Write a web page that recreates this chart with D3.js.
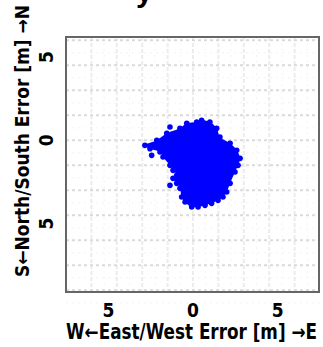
<!DOCTYPE html>
<html>
<head>
<meta charset="utf-8">
<script src="https://cdn.jsdelivr.net/npm/d3@7"></script>
<style>
  html, body { margin: 0; padding: 0; background: #fff; }
  svg { display: block; }
</style>
</head>
<body>
<div id="chart"></div>
<script>
// outline of the dense error cloud (east/west m, north/south m)
const cloudX = [-2.84, -2.14, -1.55, -0.77, -0.37, 0.22, 0.51, 1.00, 1.40, 1.59, 2.19, 2.58, 2.78, 2.66, 2.48, 2.19, 1.99, 1.77, 1.48, 1.10, 0.71, 0.30, -0.08, -0.47, -0.67, -0.77, -0.96, -1.18, -0.96, -1.18, -1.36, -1.77, -1.95, -2.54];
const cloudY = [-0.30, 0.00, 0.42, 0.72, 1.02, 1.10, 1.20, 1.10, 0.72, 0.20, -0.18, -0.60, -1.08, -1.50, -1.90, -2.58, -3.10, -3.40, -3.60, -3.78, -3.90, -4.00, -4.00, -3.70, -3.40, -2.88, -2.58, -2.28, -2.10, -1.80, -1.50, -1.00, -0.70, -0.50];
// isolated fixes outside the cloud
const strayX = [-1.36, -1.36, -2.44];
const strayY = [0.80, -2.70, -0.90];

const xTicks = [-5, 0, 5];
const yTicks = [5, 0, -5];
const gridX = [-6, -4.5, -3, -1.5, 0, 1.5, 3, 4.5, 6];
const gridY = [6, 4.5, 3, 1.5, 0, -1.5, -3, -4.5, -6, -7.5, -9];
const xTitle = "W\u2190East/West Error [m] \u2192E";
const yTitle = "S\u2190North/South Error [m] \u2192N";

const width = 323, height = 347;
const margins = { top: 37, right: 3, bottom: 55, left: 66 };

const xScale = d3.scaleLinear()
    .domain([-7.5, 7.5])
    .range([margins.left, width - margins.right]);

const yScale = d3.scaleLinear()
    .domain([-9.1, 6.2])
    .range([height - margins.bottom, margins.top]);

const svg = d3.select("#chart").append("svg")
    .attr("width", width)
    .attr("height", height);

const font = "'DejaVu Sans Condensed', 'Liberation Sans Narrow', sans-serif";

// cropped title above the figure (only its tail shows)
svg.append("text")
    .attr("x", 136)
    .attr("y", 2)
    .style("font-family", "'Liberation Sans', sans-serif")
    .style("font-weight", "bold")
    .style("font-size", "30px")
    .text("y");

// plot background
svg.append("rect")
    .attr("x", margins.left)
    .attr("y", margins.top)
    .attr("width", width - margins.left - margins.right)
    .attr("height", height - margins.top - margins.bottom)
    .attr("fill", "#fff");

// minor grid
svg.selectAll("line.minorV")
    .data(gridX)
    .enter().append("line")
    .attr("class", "minorV")
    .attr("x1", d => xScale(d + 0.75))
    .attr("x2", d => xScale(d + 0.75))
    .attr("y1", margins.top)
    .attr("y2", height - margins.bottom)
    .attr("stroke", "#f3f3f3")
    .attr("stroke-width", 1)
    .attr("stroke-dasharray", "2,4");

svg.selectAll("line.minorH")
    .data(gridY)
    .enter().append("line")
    .attr("class", "minorH")
    .attr("x1", margins.left)
    .attr("x2", width - margins.right)
    .attr("y1", d => yScale(d - 0.75))
    .attr("y2", d => yScale(d - 0.75))
    .attr("stroke", "#f3f3f3")
    .attr("stroke-width", 1)
    .attr("stroke-dasharray", "2,4");

// major grid
svg.selectAll("line.verticalGrid")
    .data(gridX)
    .enter().append("line")
    .attr("class", "verticalGrid")
    .attr("x1", d => xScale(d))
    .attr("x2", d => xScale(d))
    .attr("y1", margins.top)
    .attr("y2", height - margins.bottom)
    .attr("stroke", "#ececec")
    .attr("stroke-width", 2)
    .attr("stroke-dasharray", "4,2");

svg.selectAll("line.horizontalGrid")
    .data(gridY)
    .enter().append("line")
    .attr("class", "horizontalGrid")
    .attr("x1", margins.left)
    .attr("x2", width - margins.right)
    .attr("y1", d => yScale(d))
    .attr("y2", d => yScale(d))
    .attr("stroke", "#dadada")
    .attr("stroke-width", 2)
    .attr("stroke-dasharray", "3,3");

// the error cloud
const cloud = cloudX.map((x, i) => [x, cloudY[i]]);
const area = d3.line()
    .x(d => xScale(d[0]))
    .y(d => yScale(d[1]))
    .curve(d3.curveCatmullRomClosed);

svg.append("path")
    .datum(cloud)
    .attr("d", area)
    .attr("fill", "#0000ff");

svg.selectAll(".edge")
    .data(cloud)
    .enter().append("circle")
    .attr("class", "edge")
    .attr("cx", d => xScale(d[0]))
    .attr("cy", d => yScale(d[1]))
    .attr("r", 2.8)
    .attr("fill", "#0000ff");

svg.selectAll(".stray")
    .data(strayX)
    .enter().append("circle")
    .attr("class", "stray")
    .attr("cx", d => xScale(d))
    .attr("cy", (d, i) => yScale(strayY[i]))
    .attr("r", 2.8)
    .attr("fill", "#0000ff");

// frame
svg.append("rect")
    .attr("x", margins.left)
    .attr("y", margins.top)
    .attr("width", width - margins.left - margins.right - 1)
    .attr("height", height - margins.top - margins.bottom)
    .attr("fill", "none")
    .attr("stroke", "#666")
    .attr("stroke-width", 2);

// x tick labels
svg.selectAll(".xtick")
    .data(xTicks)
    .enter().append("text")
    .attr("class", "xtick")
    .attr("x", d => xScale(d))
    .attr("y", 317)
    .attr("text-anchor", "middle")
    .style("font-family", font)
    .style("font-weight", "bold")
    .style("font-size", "19px")
    .text(d => Math.abs(d));

// y tick labels, rotated
svg.selectAll(".ytick")
    .data(yTicks)
    .enter().append("text")
    .attr("class", "ytick")
    .attr("transform", d => "translate(53," + yScale(d) + ") rotate(-90)")
    .attr("text-anchor", "middle")
    .style("font-family", font)
    .style("font-weight", "bold")
    .style("font-size", "19px")
    .text(d => Math.abs(d));

// axis titles (x title stretched vertically to match the tall narrow face)
svg.append("text")
    .attr("transform", "translate(66,339) scale(1,1.2)")
    .attr("textLength", 251)
    .attr("lengthAdjust", "spacingAndGlyphs")
    .style("font-family", font)
    .style("font-weight", "bold")
    .style("font-size", "17px")
    .text(xTitle);

svg.append("text")
    .attr("transform", "translate(29,277) rotate(-90)")
    .attr("textLength", 272)
    .attr("lengthAdjust", "spacingAndGlyphs")
    .style("font-family", font)
    .style("font-weight", "bold")
    .style("font-size", "19px")
    .text(yTitle);
</script>
</body>
</html>
